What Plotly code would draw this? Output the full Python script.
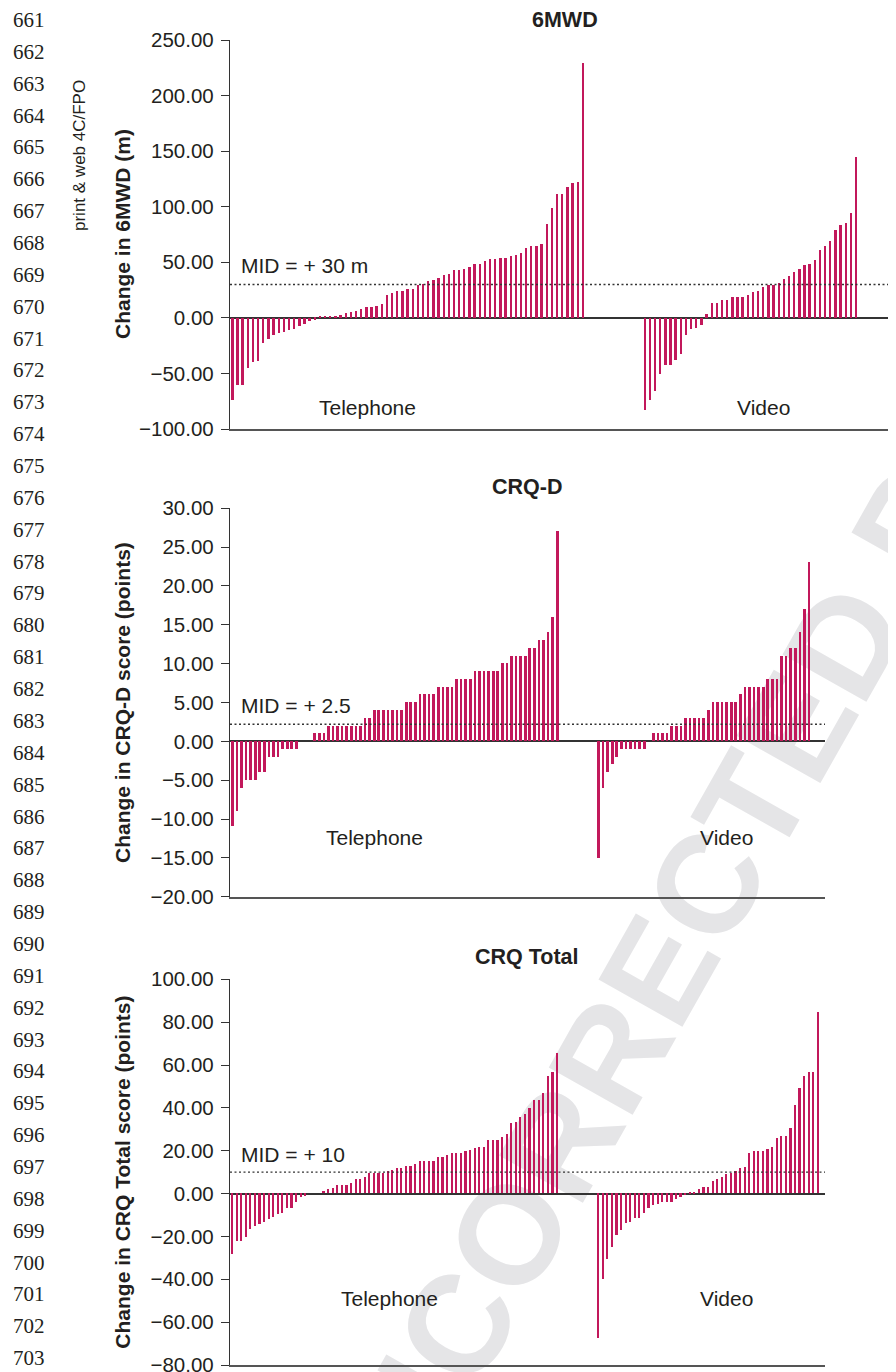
import math
import plotly.graph_objects as go

# ---------------- data ----------------
tel_6mwd = [-74.1, -60.0, -60.0, -45.0, -39.6, -38.7, -22.2, -18.6, -15.6, -13.2, -12.6, -11.1,
            -9.6, -7.5, -5.1, -2.7, -1.5, 1.5, 1.5, 1.5, 1.8, 2.4, 4.5, 5.1, 6.6, 7.8, 9.9, 9.9,
            10.8, 12.9, 21.0, 22.5, 24.3, 24.3, 26.4, 26.4, 29.7, 30.9, 33.3, 34.5, 36.3, 38.4,
            39.3, 42.9, 43.5, 44.4, 45.9, 48.9, 48.9, 51.3, 53.1, 53.1, 54.3, 54.3, 56.1, 57.0,
            58.5, 63.0, 65.1, 65.1, 66.9, 84.3, 98.4, 111.0, 111.0, 117.9, 120.9, 121.8, 228.9]
vid_6mwd = [-83.1, -74.1, -65.7, -50.1, -42.0, -42.0, -38.1, -32.1, -15.6, -9.6, -8.7, -6.0,
            3.9, 13.8, 13.8, 16.5, 16.5, 19.2, 19.2, 19.2, 20.7, 23.1, 24.3, 28.2, 30.0, 30.0,
            31.8, 35.4, 37.5, 41.4, 44.4, 48.0, 48.9, 51.9, 61.5, 65.1, 69.3, 78.9, 83.4, 85.8,
            93.9, 144.9]

tel_crqd = [-11, -9, -6, -5, -5, -5, -4, -4, -2, -2, -2, -1, -1, -1, -1, 0, 0, 0,
            1, 1, 1, 2, 2, 2, 2, 2, 2, 2, 2, 3, 3, 4, 4, 4, 4, 4, 4, 4, 5, 5, 5,
            6, 6, 6, 6, 7, 7, 7, 7, 8, 8, 8, 8, 9, 9, 9, 9, 9, 9, 10, 10,
            11, 11, 11, 11, 12, 12, 13, 13, 14, 16, 27]
vid_crqd = [-15, -6, -4, -3, -2, -1, -1, -1, -1, -1, -1, 0,
            1, 1, 1, 1, 2, 2, 2, 3, 3, 3, 3, 3, 4, 5, 5, 5, 5, 5, 5, 6,
            7, 7, 7, 7, 7, 8, 8, 8, 11, 11, 12, 12, 14, 17, 23]

tel_crqt = [-28.4, -22.1, -22.1, -20.5, -16.8, -15.5, -14.3, -13.2, -11.8, -11.3, -9.6, -9.0,
            -7.1, -7.0, -4.2, -1.9, -1.1, 0, 0, 0, 1.1, 2.0, 2.6, 3.7, 3.7, 3.7, 4.7, 6.7, 6.7,
            7.8, 9.3, 9.3, 9.3, 9.6, 10.6, 10.9, 11.8, 11.8, 12.7, 12.7, 13.5, 15.1, 15.1, 15.1,
            15.1, 16.8, 16.8, 17.7, 18.8, 18.8, 18.8, 19.7, 20.2, 21.0, 21.8, 21.8, 24.9, 24.9,
            24.9, 26.4, 27.7, 32.9, 33.4, 35.7, 36.8, 39.6, 43.5, 43.5, 46.6, 54.7, 56.6, 65.7]
vid_crqt = [-67.6, -39.9, -30.8, -24.9, -19.6, -17.1, -14.0, -13.2, -11.7, -11.7, -9.0, -7.0,
            -5.6, -5.0, -3.9, -3.9, -3.9, -2.8, -1.9, -0.9, 0.8, 0.8, 1.9, 2.8, 2.8, 5.9, 6.7,
            7.8, 8.9, 9.6, 10.6, 11.7, 12.4, 19.0, 19.9, 19.9, 19.9, 20.5, 21.8, 25.6, 26.7,
            26.7, 30.6, 41.2, 49.0, 54.7, 56.4, 56.4, 84.4]

titles = ["6MWD", "CRQ-D", "CRQ Total"]
y_titles = ["Change in 6MWD (m)", "Change in CRQ-D score (points)", "Change in CRQ Total score (points)"]
mid_values = [30, 2.2, 10]
mid_labels = ["MID = + 30 m", "MID = + 2.5", "MID = + 10"]
group_labels = ["Telephone", "Video"]
y_ranges = [[-100, 250], [-20, 30], [-80, 100]]
y_dticks = [50, 5, 20]
line_numbers = list(range(661, 704))
video_start = 80  # category slot where the video group begins

# ---------------- layout helpers ----------------
W, H = 896, 1372
OFF = 8  # page body margin
def px(x):
    return (x - OFF) / W
def py(y):
    return 1 - (y - OFF) / H

BAR = "#c2185b"
TXT = "#231f20"
FONT = "Liberation Sans, Arial, sans-serif"

panels = [
    dict(tel=tel_6mwd, vid=vid_6mwd, xpx=(230, 896), ypx=(40, 429), xr=[-0.5, 128.7], bw=0.36,
         title_xy=(565, 20), grp_y=407, grp_x=(367, 763), mid_y=265),
    dict(tel=tel_crqd, vid=vid_crqd, xpx=(230, 825), ypx=(508.3, 896.7), xr=[-0.5, 129.5], bw=0.58,
         title_xy=(527, 487), grp_y=837, grp_x=(374, 726), mid_y=705),
    dict(tel=tel_crqt, vid=vid_crqt, xpx=(230, 825), ypx=(979.3, 1365), xr=[-0.5, 129.5], bw=0.37,
         title_xy=(527, 957), grp_y=1298, grp_x=(389, 726), mid_y=1154),
]

fig = go.Figure()
annotations = []
shapes = []

# watermark (behind everything)
cx, cy, L, ang = 722, 832, 500, math.radians(60.5)
shapes.append(dict(type="line", xref="paper", yref="paper", layer="below",
                   x0=px(cx - L * math.cos(ang)), y0=py(cy + L * math.sin(ang)),
                   x1=px(cx + L * math.cos(ang)), y1=py(cy - L * math.sin(ang)),
                   line=dict(color="rgba(0,0,0,0)", width=0),
                   label=dict(text="<b>UNCORRECTED PROOF</b>", textposition="middle",
                              yanchor="middle", padding=0,
                              font=dict(size=140, color="#e5e5e7", family=FONT))))

for i, p in enumerate(panels):
    n = i + 1
    xs = list(range(len(p["tel"]))) + [video_start + k for k in range(len(p["vid"]))]
    ys = p["tel"] + p["vid"]
    fig.add_trace(go.Bar(x=xs, y=ys, width=p["bw"], marker=dict(color=BAR, line=dict(width=0)),
                         xaxis=f"x{n}", yaxis=f"y{n}", showlegend=False, hoverinfo="y"))
    x1 = min(p["xpx"][1] - OFF, W) / W
    xa = dict(domain=[px(p["xpx"][0]), x1], range=p["xr"], showticklabels=False,
              ticks="", showgrid=False, zeroline=False, showline=True, linecolor="#555555",
              linewidth=2, anchor=f"y{n}", fixedrange=True, automargin=False)
    ya = dict(domain=[py(p["ypx"][1]), py(p["ypx"][0])], range=y_ranges[i], dtick=y_dticks[i],
              tick0=0, tickformat=".2f", ticks="outside", ticklen=8, tickwidth=1.3,
              tickcolor="#333333", showline=True, linecolor="#333333", linewidth=1.3,
              showgrid=False, zeroline=True, zerolinecolor="#333333", zerolinewidth=1.5,
              tickfont=dict(family=FONT, size=20.5, color=TXT), ticklabelstandoff=3,
              anchor=f"x{n}", fixedrange=True, automargin=False)
    fig.layout[f"xaxis{n}"] = xa
    fig.layout[f"yaxis{n}"] = ya

    xref_dom = "x domain" if n == 1 else f"x{n} domain"
    shapes.append(dict(type="line", xref=xref_dom, yref=f"y{n}", x0=0, x1=1,
                       y0=mid_values[i], y1=mid_values[i],
                       line=dict(color="#333333", width=1.3, dash="2px,2.5px")))

    annotations.append(dict(text=f"<b>{titles[i]}</b>", x=px(p["title_xy"][0]), y=py(p["title_xy"][1]),
                            xref="paper", yref="paper", showarrow=False, xanchor="center", yanchor="middle",
                            font=dict(family=FONT, size=21.5, color=TXT)))
    ymid = (p["ypx"][0] + p["ypx"][1]) / 2
    annotations.append(dict(text=f"<b>{y_titles[i]}</b>", x=px(122.5), y=py(ymid), textangle=-90,
                            xref="paper", yref="paper", showarrow=False, xanchor="center", yanchor="middle",
                            font=dict(family=FONT, size=21, color=TXT)))
    annotations.append(dict(text=mid_labels[i], x=px(239), y=py(p["mid_y"]),
                            xref="paper", yref="paper", showarrow=False, xanchor="left", yanchor="middle",
                            font=dict(family=FONT, size=21, color=TXT)))
    for g, gx in zip(group_labels, p["grp_x"]):
        annotations.append(dict(text=g, x=px(gx), y=py(p["grp_y"]),
                                xref="paper", yref="paper", showarrow=False, xanchor="center", yanchor="middle",
                                font=dict(family=FONT, size=21, color=TXT)))

# manuscript line numbers
for k, num in enumerate(line_numbers):
    annotations.append(dict(text=str(num), x=px(11), y=py(20 + 31.86 * k), xref="paper", yref="paper",
                            showarrow=False, xanchor="left", yanchor="middle",
                            font=dict(family="Liberation Serif, DejaVu Serif, serif", size=21, color=TXT)))

annotations.append(dict(text="print & web 4C/FPO", x=px(80), y=py(156), textangle=-90,
                        xref="paper", yref="paper", showarrow=False, xanchor="center", yanchor="middle",
                        font=dict(family=FONT, size=17, color=TXT)))

fig.update_layout(width=W, height=H, margin=dict(l=0, r=0, t=0, b=0, autoexpand=False),
                  paper_bgcolor="white", plot_bgcolor="rgba(0,0,0,0)",
                  bargap=0, showlegend=False, annotations=annotations, shapes=shapes,
                  font=dict(family=FONT, color=TXT))

fig.write_html("out.html")
